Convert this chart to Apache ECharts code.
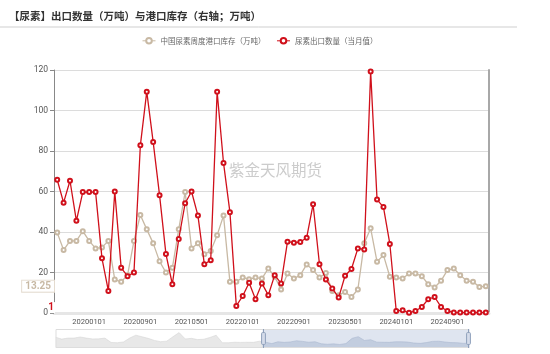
<!DOCTYPE html>
<html>
<head>
<meta charset="utf-8">
<script src="https://cdn.jsdelivr.net/npm/echarts@6/dist/echarts.min.js"></script>
<style>
  html, body { margin: 0; padding: 0; background: #fff; }
  #main { width: 550px; height: 354px; }
</style>
</head>
<body>
<div id="main"></div>
<script>
  var months = [
    "20190801", "20190901", "20191001", "20191101", "20191201",
    "20200101", "20200201", "20200301", "20200401", "20200501", "20200601", "20200701", "20200801", "20200901", "20201001", "20201101", "20201201",
    "20210101", "20210201", "20210301", "20210401", "20210501", "20210601", "20210701", "20210801", "20210901", "20211001", "20211101", "20211201",
    "20220101", "20220201", "20220301", "20220401", "20220501", "20220601", "20220701", "20220801", "20220901", "20221001", "20221101", "20221201",
    "20230101", "20230201", "20230301", "20230401", "20230501", "20230601", "20230701", "20230801", "20230901", "20231001", "20231101", "20231201",
    "20240101", "20240201", "20240301", "20240401", "20240501", "20240601", "20240701", "20240801", "20240901", "20241001", "20241101", "20241201",
    "20250101", "20250201", "20250301"
  ]

  // 中国尿素周度港口库存（万吨）
  var portStock = [
    39.7, 31.1, 35.6, 35.6, 40.4, 35.6, 31.9, 32.4, 35.6, 16.5, 15.4, 18.7, 35.6, 48.4, 41.3, 34.5, 25.5,
    20.0, 22.3, 41.3, 59.7, 31.9, 34.4, 29.0, 30.6, 38.4, 48.1, 15.4, 15.4, 17.5, 16.7, 17.5, 17.0, 22.0,
    17.9, 11.6, 19.5, 17.0, 18.7, 24.0, 21.2, 17.5, 19.8, 10.9, 8.8, 10.4, 7.9, 11.6, 34.5, 41.8, 25.3,
    28.6, 17.9, 17.5, 17.0, 19.5, 19.5, 18.2, 14.2, 12.6, 15.9, 21.2, 22.0, 18.7, 15.9, 15.4, 12.9, 13.25
  ]

  // 尿素出口数量（当月值）
  var exportQty = [
    65.8, 54.5, 65.3, 45.5, 59.7, 59.7, 59.7, 27.0, 10.9, 60.0, 22.3, 18.2, 20.0, 82.8, 109.3, 84.5, 58.2,
    29.1, 14.2, 36.5, 54.2, 60.0, 48.1, 24.1, 26.1, 109.3, 74.1, 49.8, 3.5, 8.4, 14.9, 6.8, 14.6, 8.8,
    18.7, 14.6, 35.2, 34.7, 35.1, 37.2, 53.7, 24.1, 16.5, 12.1, 7.6, 18.4, 21.7, 31.9, 31.4, 119.2, 56.0,
    52.3, 34.1, 1.0, 1.3, 0.1, 1.0, 3.0, 6.8, 7.9, 3.0, 1.0, 0.2, 0.2, 0.2, 0.2, 0.2, 0.2
  ]

  var shownLabels = ["20200101", "20200901", "20210501", "20220101", "20220901", "20230501", "20240101", "20240901"]

  var stockColor = "#c8b9a4"
  var exportColor = "#d0101b"

  function showLabel(index, value) {
    return shownLabels.indexOf(months[index]) >= 0
  }

  var chart = echarts.init(document.getElementById("main"))

  var option = {
    animation: false,
    title: {
      text: "【尿素】出口数量（万吨）与港口库存（右轴；万吨）",
      left: 4,
      top: 6,
      textStyle: { fontFamily: "Noto Sans CJK SC", fontSize: 10.5, fontWeight: "bold", color: "#333" }
    },
    legend: {
      data: ["中国尿素周度港口库存（万吨）", "尿素出口数量（当月值）"],
      left: 137,
      top: 32,
      itemWidth: 13,
      itemHeight: 7,
      itemGap: 11,
      itemStyle: { borderWidth: 1 },
      lineStyle: { width: 1 },
      textStyle: { fontFamily: "Noto Sans CJK SC", fontSize: 7.5, color: "#666" }
    },
    graphic: [
      {
        type: "line",
        shape: { x1: 0, y1: 27, x2: 517, y2: 27 },
        style: { stroke: "#cfcfcf", lineWidth: 1 }
      },
      {
        type: "text",
        left: 229,
        top: 162,
        style: { text: "紫金天风期货", fill: "#cccccc", font: "15.5px 'Noto Sans CJK SC'" },
        z: 0
      }
    ],
    grid: { left: 54, right: 61, top: 70, bottom: 41 },
    xAxis: [
      {
        type: "category",
        data: months,
        boundaryGap: true,
        axisLine: { lineStyle: { color: "#555" } },
        axisTick: { alignWithLabel: true, interval: showLabel, length: 4, lineStyle: { color: "#555" } },
        axisLabel: { interval: showLabel, fontFamily: "Roboto", fontSize: 7.5, color: "#555", margin: 5 }
      },
      {
        type: "category",
        data: months,
        position: "top",
        axisLine: { show: true, lineStyle: { color: "#e6e6e6", width: 3 } },
        axisTick: { show: false },
        axisLabel: { show: false },
        splitLine: { show: false }
      }
    ],
    yAxis: [
      {
        type: "value",
        min: 0,
        max: 120,
        interval: 20,
        axisLine: { show: true, lineStyle: { color: "#888" } },
        axisTick: { show: true, length: 4, lineStyle: { color: "#888" } },
        axisLabel: { fontFamily: "Roboto", fontSize: 8.5, color: "#555", margin: 6 },
        splitLine: { lineStyle: { color: "#dcdcdc" } }
      },
      {
        type: "value",
        min: 0,
        max: 120,
        interval: 20,
        position: "right",
        axisLine: { show: true, lineStyle: { color: "#a8a8a8", width: 2 } },
        axisTick: { show: false },
        axisLabel: { show: false },
        splitLine: { show: false }
      }
    ],
    dataZoom: [
      {
        type: "slider",
        xAxisIndex: 1,
        start: 50,
        end: 100,
        left: 53,
        right: 83,
        top: 329,
        height: 19,
        showDetail: false,
        brushSelect: false,
        moveHandleSize: 0,
        borderColor: "#dddddd",
        backgroundColor: "rgba(0,0,0,0)",
        fillerColor: "rgba(150,170,205,0.3)",
        handleIcon: "path://M-9.35,34.56V42m0-40V9.5m-2,0h4a2,2,0,0,1,2,2v21a2,2,0,0,1-2,2h-4a2,2,0,0,1-2-2v-21A2,2,0,0,1-11.35,9.5Z",
        handleSize: "100%",
        handleStyle: { color: "#d5dcea", borderColor: "#8fa0bb", borderWidth: 1 },
        dataBackground: {
          lineStyle: { color: "#d0d0d0", width: 0.5 },
          areaStyle: { color: "#e8e8e8", opacity: 1 }
        },
        selectedDataBackground: {
          lineStyle: { color: "#aab6ca", width: 0.5 },
          areaStyle: { color: "#b9c4d6", opacity: 0.6 }
        }
      }
    ],
    series: [
      {
        name: "中国尿素周度港口库存（万吨）",
        type: "line",
        data: portStock,
        symbol: "emptyCircle",
        symbolSize: 4,
        color: stockColor,
        lineStyle: { width: 1.3, color: stockColor },
        itemStyle: { color: stockColor, borderWidth: 0.8 },
        z: 2,
        markLine: {
          silent: true,
          symbol: "none",
          lineStyle: { color: "rgba(0,0,0,0)", width: 0 },
          data: [{ yAxis: portStock[portStock.length - 1] }],
          label: {
            show: true,
            position: "start",
            distance: 0,
            formatter: function (p) { return p.value },
            fontFamily: "Roboto",
            fontSize: 10,
            fontWeight: "bold",
            color: stockColor,
            backgroundColor: "#fff",
            borderColor: "#e4dbcf",
            borderWidth: 1,
            padding: [1, 3, 0, 3]
          }
        }
      },
      {
        name: "尿素出口数量（当月值）",
        type: "line",
        data: exportQty,
        symbol: "emptyCircle",
        symbolSize: 4,
        color: exportColor,
        lineStyle: { width: 1.3, color: exportColor },
        itemStyle: { color: exportColor, borderWidth: 0.8 },
        z: 3,
        markLine: {
          silent: true,
          symbol: "none",
          lineStyle: { color: "rgba(0,0,0,0)", width: 0 },
          data: [{ yAxis: exportQty[exportQty.length - 1] }],
          label: {
            show: true,
            position: "start",
            distance: 0,
            offset: [1, -5],
            formatter: function (p) { return Math.ceil(p.value) },
            fontFamily: "Roboto",
            fontSize: 10,
            fontWeight: "bold",
            color: exportColor,
            backgroundColor: "#fff",
            padding: [1, 1, 0, 0]
          }
        }
      },
      {
        type: "line",
        xAxisIndex: 1,
        data: portStock,
        showSymbol: false,
        silent: true,
        lineStyle: { opacity: 0 },
        tooltip: { show: false }
      }
    ]
  }

  chart.setOption(option)
</script>
</body>
</html>
